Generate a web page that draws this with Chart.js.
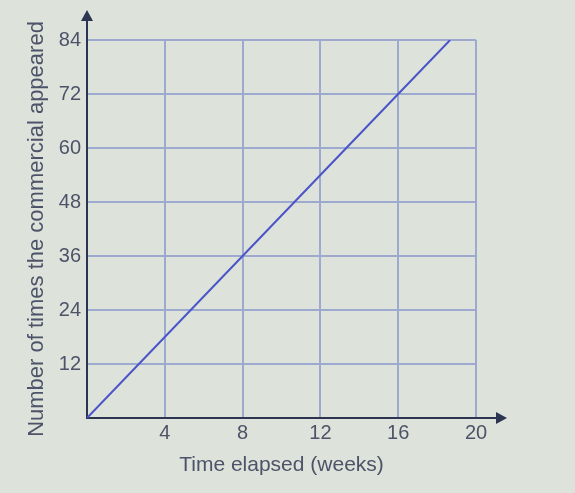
<!DOCTYPE html>
<html>
<head>
<meta charset="utf-8">
<script src="https://cdn.jsdelivr.net/npm/chart.js@4"></script>
<style>
    body { margin: 0; background: #dde2da; }
    canvas { display: block; }
</style>
</head>
<body>
<canvas id="commercialChart" width="575" height="493"></canvas>
<script>
// values
const weeks = [0, 4, 8, 12, 16, 18.67];
const timesAppeared = [0, 18, 36, 54, 72, 84];
const xTicks = [4, 8, 12, 16, 20];
const yTicks = [12, 24, 36, 48, 60, 72, 84];

const axisColour = '#2d3650';
const gridColour = '#9ea9cf';
const textColour = '#4d5368';

// paper background + arrow heads on both axes
const paperPlugin = {
    id: 'paper',
    beforeDraw(chart) {
        const ctx = chart.ctx;
        ctx.save();
        ctx.fillStyle = '#dde2da';
        ctx.fillRect(0, 0, chart.width, chart.height);
        ctx.restore();
    },
    afterDraw(chart) {
        const ctx = chart.ctx;
        const area = chart.chartArea;
        ctx.save();
        ctx.strokeStyle = axisColour;
        ctx.fillStyle = axisColour;
        ctx.lineWidth = 2;
        // y axis extension
        ctx.beginPath();
        ctx.moveTo(area.left, area.top);
        ctx.lineTo(area.left, 20);
        ctx.stroke();
        ctx.beginPath();
        ctx.moveTo(area.left, 10);
        ctx.lineTo(area.left - 6, 21);
        ctx.lineTo(area.left + 6, 21);
        ctx.closePath();
        ctx.fill();
        // x axis extension
        ctx.beginPath();
        ctx.moveTo(area.right, area.bottom);
        ctx.lineTo(area.right + 20, area.bottom);
        ctx.stroke();
        ctx.beginPath();
        ctx.moveTo(area.right + 31, area.bottom);
        ctx.lineTo(area.right + 20, area.bottom - 6);
        ctx.lineTo(area.right + 20, area.bottom + 6);
        ctx.closePath();
        ctx.fill();
        ctx.restore();
    }
};

const ctx = document.getElementById('commercialChart').getContext('2d');
const chart = new Chart(ctx, {
    type: 'line',
    data: {
        datasets: [{
            data: weeks.map((w, i) => ({ x: w, y: timesAppeared[i] })),
            borderColor: '#4b55c9',
            borderWidth: 2,
            pointRadius: 0,
            tension: 0,
            fill: false
        }]
    },
    options: {
        responsive: false,
        animation: false,
        layout: {
            padding: { left: 24, top: 40, right: 99, bottom: 11 }
        },
        plugins: {
            legend: { display: false },
            tooltip: { enabled: false }
        },
        scales: {
            x: {
                type: 'linear',
                min: 0,
                max: 20,
                afterBuildTicks: scale => {
                    scale.ticks = [0].concat(xTicks).map(v => ({ value: v }));
                },
                ticks: {
                    color: textColour,
                    font: { family: 'Liberation Sans, Arial', size: 20 },
                    padding: 3,
                    callback: v => v === 0 ? '' : v
                },
                grid: { color: gridColour, lineWidth: 2, drawTicks: false },
                border: { color: axisColour, width: 2 },
                title: {
                    display: true,
                    text: 'Time elapsed (weeks)',
                    color: textColour,
                    font: { family: 'Liberation Sans, Arial', size: 21 },
                    padding: { top: 0, bottom: 4 }
                },
                afterFit: scale => { scale.height = 64; }
            },
            y: {
                type: 'linear',
                min: 0,
                max: 84,
                afterBuildTicks: scale => {
                    scale.ticks = [0].concat(yTicks).map(v => ({ value: v }));
                },
                ticks: {
                    color: textColour,
                    font: { family: 'Liberation Sans, Arial', size: 20 },
                    padding: 6,
                    callback: v => v === 0 ? '' : v
                },
                grid: { color: gridColour, lineWidth: 2, drawTicks: false },
                border: { color: axisColour, width: 2 },
                title: {
                    display: true,
                    text: 'Number of times the commercial appeared',
                    color: textColour,
                    font: { family: 'Liberation Sans, Arial', size: 22 },
                    padding: { top: 0, bottom: 0 }
                },
                afterFit: scale => { scale.width = 63; }
            }
        }
    },
    plugins: [paperPlugin]
});
</script>
</body>
</html>
